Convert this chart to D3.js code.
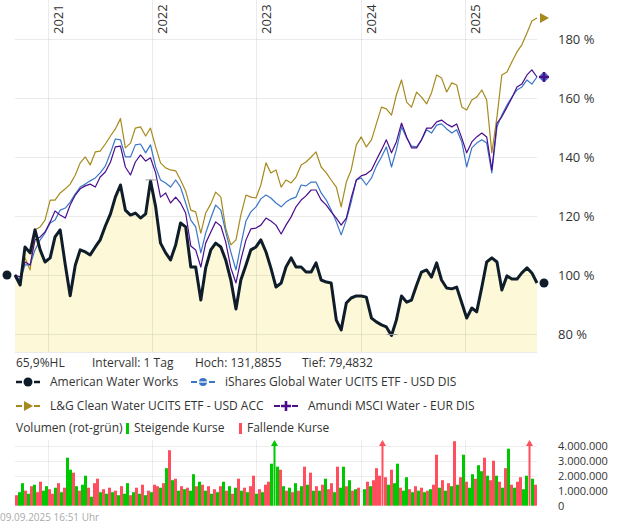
<!DOCTYPE html>
<html>
<head>
<meta charset="utf-8">
<script src="https://cdn.jsdelivr.net/npm/d3@7"></script>
<style>
  body { margin: 0; background: #fff; }
  svg text { font-family: "Open Sans", sans-serif; fill: #333; }
</style>
</head>
<body>
<div id="chart"></div>
<script>
// performance in % (start = 100), one value every ~17.5 days
var startDate = new Date(2020, 8, 9),
  endDate = new Date(2025, 8, 9);

var awk = [100.0, 96.6, 109.5, 107.5, 115.3, 108.5, 104.4, 105.8, 112.9, 115.3,
  103.4, 93.0, 103.4, 108.5, 107.8, 106.8, 109.5, 111.9, 116.6, 120.7,
  126.4, 130.5, 122.0, 120.3, 121.0, 119.3, 120.7, 131.89, 123.1, 110.8,
  107.5, 105.1, 110.2, 117.6, 116.3, 102.7, 102.7, 91.5, 102.4, 108.5,
  110.8, 109.5, 105.1, 98.3, 88.5, 98.3, 103.4, 108.5, 109.5, 111.9,
  107.8, 102.4, 95.9, 97.3, 102.7, 105.8, 102.7, 102.7, 101.0, 101.0,
  104.1, 98.3, 97.6, 97.3, 84.7, 81.4, 90.5, 92.2, 92.9, 92.9,
  92.5, 85.4, 84.1, 83.1, 82.4, 79.48, 84.7, 92.9, 90.8, 91.5,
  96.6, 101.0, 101.7, 99.3, 104.1, 98.3, 95.6, 95.3, 95.9, 90.5,
  85.4, 88.8, 87.5, 95.9, 104.4, 105.8, 104.4, 94.9, 99.7, 98.6,
  98.6, 100.7, 102.4, 100.7, 97.3];

var ishares = [100.0, 98.3, 103.4, 103.4, 108.5, 111.9, 114.2, 117.6, 118.6, 122.0,
  122.7, 124.7, 127.5, 129.8, 130.8, 131.9, 132.9, 134.6, 136.9, 141.4,
  146.1, 145.8, 140.0, 140.0, 144.1, 144.4, 141.4, 144.1, 136.6, 132.2,
  131.2, 129.8, 132.2, 129.8, 124.4, 118.6, 116.3, 107.5, 114.2, 119.3,
  123.7, 122.0, 114.6, 107.8, 101.7, 110.2, 118.3, 121.4, 123.1, 125.8,
  127.1, 126.1, 124.4, 123.1, 124.7, 125.8, 126.4, 130.5, 130.2, 131.5,
  131.5, 127.8, 125.4, 122.0, 118.0, 113.6, 118.6, 124.7, 132.2, 132.9,
  130.5, 132.9, 136.9, 140.0, 143.4, 136.6, 142.4, 150.2, 146.4, 143.7,
  143.4, 145.8, 149.2, 148.1, 150.8, 151.2, 149.5, 148.1, 149.2, 145.1,
  136.6, 143.1, 144.7, 145.8, 144.7, 134.6, 150.2, 154.2, 157.6, 160.3,
  162.7, 163.7, 166.1, 164.7, 167.1];

var lgClean = [100.0, 97.3, 105.8, 101.7, 115.3, 116.3, 118.6, 125.4, 125.4, 127.8,
  129.2, 130.8, 133.9, 138.0, 140.0, 137.3, 141.7, 142.0, 144.4, 147.1,
  149.5, 153.0, 143.1, 144.7, 149.8, 150.2, 147.1, 149.8, 143.4, 138.0,
  136.3, 135.6, 135.3, 132.2, 128.5, 122.0, 121.4, 114.2, 121.0, 124.1,
  128.1, 126.4, 115.9, 110.2, 111.9, 120.3, 127.1, 126.4, 126.1, 130.5,
  138.0, 134.6, 135.6, 129.8, 132.2, 131.2, 133.2, 137.3, 138.3, 140.0,
  141.7, 136.6, 134.6, 132.2, 129.8, 123.1, 131.5, 135.6, 144.1, 146.8,
  143.4, 145.8, 151.2, 156.9, 156.3, 154.2, 161.0, 166.1, 158.6, 156.9,
  162.0, 160.3, 158.0, 161.7, 167.8, 166.8, 162.0, 165.1, 164.4, 156.9,
  155.9, 159.3, 160.3, 162.7, 159.3, 141.4, 153.6, 167.8, 168.8, 172.2,
  175.6, 178.0, 182.0, 186.1, 187.1];

var amundi = [100.0, 99.3, 104.4, 103.4, 111.9, 112.9, 114.6, 118.0, 121.7, 120.3,
  119.3, 123.7, 127.1, 129.2, 130.2, 130.8, 129.8, 133.2, 134.9, 138.3,
  143.4, 143.7, 136.6, 133.9, 138.3, 140.7, 138.6, 139.7, 134.6, 126.4,
  127.8, 124.4, 126.4, 124.4, 121.0, 109.8, 108.5, 102.7, 110.8, 114.6,
  118.0, 116.6, 111.2, 102.4, 97.3, 105.1, 111.9, 115.6, 115.9, 116.9,
  119.3, 118.3, 116.9, 113.9, 116.9, 119.7, 123.1, 125.4, 126.8, 128.8,
  128.8, 125.4, 123.7, 121.4, 119.3, 116.9, 119.3, 126.1, 132.2, 133.6,
  134.2, 135.6, 139.0, 142.4, 145.8, 141.4, 145.1, 151.5, 146.8, 143.1,
  143.1, 145.8, 149.8, 149.8, 151.9, 152.5, 151.2, 150.2, 151.2, 146.4,
  141.4, 145.1, 146.8, 148.1, 146.8, 135.6, 151.5, 153.6, 156.9, 160.0,
  163.7, 164.7, 167.8, 169.5, 167.1];

// volume in millions, g = rising, r = falling
var volumes = [0.7, 0.9, 1.5, 1.0, 0.8, 1.3, 1.4, 0.9, 1.6, 1.0,
  1.3, 1.1, 0.8, 1.2, 1.5, 0.9, 1.2, 3.2, 2.4, 2.2,
  1.3, 1.0, 1.4, 2.0, 1.2, 0.6, 1.5, 1.8, 0.9, 1.1,
  0.8, 1.2, 0.9, 1.0, 0.7, 1.3, 0.8, 1.5, 0.7, 0.9,
  1.2, 0.8, 1.4, 0.7, 1.0, 0.9, 1.4, 1.3, 1.2, 1.5,
  2.5, 3.7, 1.7, 1.8, 1.0, 1.3, 1.1, 1.2, 1.0, 2.1,
  1.3, 1.6, 1.4, 1.0, 1.3, 0.8, 1.1, 0.9, 1.3, 1.6,
  1.0, 1.3, 0.8, 1.2, 1.8, 1.0, 1.2, 0.9, 1.3, 2.0,
  0.8, 1.1, 0.9, 1.4, 1.6, 2.8, 5.0, 2.6, 2.4, 1.3,
  1.0, 1.2, 0.9, 1.5, 1.0, 1.3, 2.6, 1.4, 2.2, 1.0,
  1.3, 1.0, 1.4, 1.8, 1.1, 1.5, 0.9, 2.6, 1.2, 2.6,
  1.3, 1.7, 1.0, 1.1, 1.2, 0, 1.1, 1.6, 1.3, 1.7,
  2.5, 2.0, 5.0, 1.9, 1.4, 2.4, 1.5, 2.8, 1.2, 1.0,
  1.9, 1.1, 0.9, 1.3, 1.0, 1.2, 0.9, 1.0, 1.1, 1.4,
  3.4, 1.2, 1.7, 1.0, 1.5, 1.3, 4.3, 1.4, 1.9, 3.4,
  1.6, 1.2, 2.1, 1.8, 2.7, 2.3, 3.2, 2.0, 1.7, 3.0,
  2.0, 1.6, 1.2, 2.5, 3.8, 1.4, 1.2, 1.6, 1.9, 1.1,
  2.0, 5.0, 1.8, 1.4];
var volDir = ("rggrgrgrrg" + "grrgrgrggr" + "grggrgrrgr" + "grgrgrggrg" + "rgrgrgrrgr" +
  "grgrgrgrgg" + "rgrgrgrgrg" + "rgrgrgrgrr" + "grgrrgggrg" + "rgrgrgrgrg" +
  "rgrgrrgrgg" + "rgrgrggrgr" + "rrrrgrggrg" + "grgrgrgrgr" + "rgrgrgrgrg" +
  "rggrggrgrr" + "grgrgrgrrg" + "grgr").split("");

var years = [2021, 2022, 2023, 2024, 2025];
var pctTicks = [80, 100, 120, 140, 160, 180];
var volTicks = [0, 1e6, 2e6, 3e6, 4e6];
var awkHigh = 131.8855, awkLow = 79.4832;
var infoTexts = ["65,9%HL", "Intervall: 1 Tag", "Hoch: 131,8855", "Tief: 79,4832"];
var stamp = "09.09.2025 16:51 Uhr";

var series = [
  { name: "L&G Clean Water UCITS ETF - USD ACC", values: lgClean, color: "#a68a1e", marker: "tri" },
  { name: "iShares Global Water UCITS ETF - USD DIS", values: ishares, color: "#3a76c8", marker: "disc" },
  { name: "Amundi MSCI Water - EUR DIS", values: amundi, color: "#4b0e8c", marker: "plus" },
  { name: "American Water Works", values: awk, color: "#0e1d29", marker: "dot" }
];

var W = 620, H = 523;
var plot = { left: 15, right: 537, top: 0, bottom: 352 };
var vol = { top: 440, bottom: 505.7 };

var svg = d3.select("#chart").append("svg").attr("width", W).attr("height", H);

var span = d3.timeDay.count(startDate, endDate);
var dates = d3.range(awk.length).map(function (i) {
  return d3.timeDay.offset(startDate, Math.round(i * span / (awk.length - 1)));
});

var x = d3.scaleTime().domain([startDate, endDate]).range([plot.left, plot.right]);
var y = d3.scaleLinear().domain([73.9, 193.2]).range([plot.bottom, plot.top]);
var yv = d3.scaleLinear().domain([0, 4.38e6]).range([vol.bottom, vol.top]);

// area under American Water Works
svg.append("path")
  .datum(awk)
  .attr("fill", "#fcf8d8")
  .attr("d", d3.area()
    .x(function (d, i) { return x(dates[i]); })
    .y0(plot.bottom)
    .y1(function (d) { return y(d); }));

// grid
var grid = svg.append("g").attr("stroke", "#000").attr("stroke-opacity", 0.08);
grid.selectAll(".h").data(pctTicks).enter().append("line")
  .attr("x1", plot.left).attr("x2", plot.right)
  .attr("y1", function (d) { return Math.round(y(d)) + 0.5; })
  .attr("y2", function (d) { return Math.round(y(d)) + 0.5; });
grid.selectAll(".v").data(years).enter().append("line")
  .attr("y1", plot.top).attr("y2", plot.bottom)
  .attr("x1", function (d) { return Math.round(x(new Date(d, 0, 1))) + 0.5; })
  .attr("x2", function (d) { return Math.round(x(new Date(d, 0, 1))) + 0.5; });
grid.append("line").attr("x1", plot.left).attr("x2", plot.right)
  .attr("y1", plot.bottom + 0.5).attr("y2", plot.bottom + 0.5);

// year labels
svg.selectAll(".year").data(years).enter().append("text")
  .attr("transform", function (d) {
    return "translate(" + (x(new Date(d, 0, 1)) + 15) + ",34) rotate(-90)";
  })
  .attr("font-size", 13)
  .text(function (d) { return d; });

// right axis
var yAxis = svg.append("g")
  .attr("transform", "translate(" + plot.right + ",0)")
  .call(d3.axisRight(y).tickValues(pctTicks).tickSize(0).tickPadding(21)
    .tickFormat(function (d) { return d + " %"; }));
yAxis.select(".domain").remove();
yAxis.selectAll("text").attr("font-size", 13).attr("font-family", "Open Sans").attr("fill", "#333");

// lines
var line = d3.line()
  .x(function (d, i) { return x(dates[i]); })
  .y(function (d) { return y(d); });
series.forEach(function (s) {
  svg.append("path")
    .datum(s.values)
    .attr("fill", "none")
    .attr("stroke", s.color)
    .attr("stroke-width", s.marker === "dot" ? 3 : 1.2)
    .attr("stroke-linejoin", "round")
    .attr("d", line);
});

// high / low markers
var iHigh = awk.indexOf(d3.max(awk)), iLow = awk.indexOf(d3.min(awk));
[[iHigh, awkHigh], [iLow, awkLow]].forEach(function (p) {
  svg.append("line")
    .attr("x1", x(dates[p[0]]) - 5).attr("x2", x(dates[p[0]]) + 6)
    .attr("y1", y(p[1]) - 1).attr("y2", y(p[1]) - 1)
    .attr("stroke", "#999").attr("stroke-width", 1);
});

function marker(g, type, color, cx, cy) {
  if (type === "dot") {
    g.append("circle").attr("cx", cx).attr("cy", cy).attr("r", 4.5).attr("fill", color);
  } else if (type === "disc") {
    g.append("circle").attr("cx", cx).attr("cy", cy).attr("r", 4).attr("fill", color);
    g.append("line").attr("x1", cx - 4).attr("x2", cx + 4).attr("y1", cy).attr("y2", cy)
      .attr("stroke", "#fff").attr("stroke-width", 1.2);
  } else if (type === "tri") {
    g.append("path").attr("d", "M" + (cx - 4) + "," + (cy - 5) + "L" + (cx + 5) + "," + cy + "L" + (cx - 4) + "," + (cy + 5) + "Z")
      .attr("fill", color);
  } else {
    g.append("path").attr("d", "M" + (cx - 5) + "," + cy + "H" + (cx + 5) + "M" + cx + "," + (cy - 5) + "V" + (cy + 5))
      .attr("stroke", color).attr("stroke-width", 2.6);
  }
}

// start and end markers
var marks = svg.append("g");
marker(marks, "dot", "#0e1d29", 7, y(awk[0]));
series.forEach(function (s) {
  marker(marks, s.marker, s.color, 544, y(s.values[s.values.length - 1]));
});

// info row
var infoX = [16, 92, 195, 302];
svg.selectAll(".info").data(infoTexts).enter().append("text")
  .attr("x", function (d, i) { return infoX[i]; })
  .attr("y", 363).attr("dy", "0.35em").attr("font-size", 12)
  .text(function (d) { return d; });

// legend
var legendPos = [
  { s: series[3], x: 16, y: 382 },
  { s: series[1], x: 191, y: 382 },
  { s: series[0], x: 16, y: 406 },
  { s: series[2], x: 274, y: 406 }
];
legendPos.forEach(function (l) {
  var g = svg.append("g");
  var w = l.s.marker === "dot" ? 2.5 : 2;
  g.append("line").attr("x1", l.x).attr("x2", l.x + 6).attr("y1", l.y).attr("y2", l.y)
    .attr("stroke", l.s.color).attr("stroke-width", w);
  g.append("line").attr("x1", l.x + 18).attr("x2", l.x + 24).attr("y1", l.y).attr("y2", l.y)
    .attr("stroke", l.s.color).attr("stroke-width", w);
  marker(g, l.s.marker, l.s.color, l.x + 12, l.y);
  g.append("text").attr("x", l.x + 34).attr("y", l.y).attr("dy", "0.35em")
    .attr("font-size", 12).text(l.s.name);
});

// volume legend
svg.append("text").attr("x", 16).attr("y", 428).attr("dy", "0.35em").attr("font-size", 12)
  .text("Volumen (rot-grün)");
svg.append("rect").attr("x", 126).attr("y", 423).attr("width", 3).attr("height", 11).attr("fill", "#00c800");
svg.append("text").attr("x", 134).attr("y", 428).attr("dy", "0.35em").attr("font-size", 12)
  .text("Steigende Kurse");
svg.append("rect").attr("x", 239).attr("y", 423).attr("width", 3).attr("height", 11).attr("fill", "#ff4f5e");
svg.append("text").attr("x", 247).attr("y", 428).attr("dy", "0.35em").attr("font-size", 12)
  .text("Fallende Kurse");

// volume grid
var vgrid = svg.append("g").attr("stroke", "#000").attr("stroke-opacity", 0.07);
vgrid.selectAll(".h").data(volTicks.slice(1)).enter().append("line")
  .attr("x1", plot.left).attr("x2", plot.right)
  .attr("y1", function (d) { return Math.round(yv(d)) + 0.5; })
  .attr("y2", function (d) { return Math.round(yv(d)) + 0.5; });
vgrid.selectAll(".v").data(years).enter().append("line")
  .attr("y1", vol.top).attr("y2", vol.bottom)
  .attr("x1", function (d) { return Math.round(x(new Date(d, 0, 1))) + 0.5; })
  .attr("x2", function (d) { return Math.round(x(new Date(d, 0, 1))) + 0.5; });

// volume bars
var vmax = yv.domain()[1];
var vdate = function (i) {
  return d3.timeDay.offset(startDate, Math.round(i * span / volumes.length));
};
var bars = svg.append("g");
volumes.forEach(function (v, i) {
  var val = v * 1e6, x0 = Math.round(x(vdate(i))), x1 = Math.round(x(vdate(i + 1)));
  var color = volDir[i] === "g" ? "#00c800" : "#ff4f5e";
  if (val <= 0) return;
  if (val > vmax) {
    var cx = (x0 + x1) / 2;
    bars.append("rect").attr("x", cx - 1).attr("width", 2)
      .attr("y", vol.top + 5).attr("height", vol.bottom - vol.top - 5).attr("fill", color);
    bars.append("path").attr("d", "M" + (cx - 3.5) + "," + (vol.top + 6) + "L" + cx + "," + vol.top + "L" + (cx + 3.5) + "," + (vol.top + 6) + "Z")
      .attr("fill", color);
  } else {
    bars.append("rect").attr("x", x0).attr("width", Math.max(1, x1 - x0))
      .attr("y", yv(val)).attr("height", vol.bottom - yv(val)).attr("fill", color);
  }
});

// volume axis
var fmt = d3.formatLocale({ decimal: ",", thousands: ".", grouping: [3], currency: ["", "€"] }).format(",");
var vAxis = svg.append("g")
  .attr("transform", "translate(" + plot.right + ",0)")
  .call(d3.axisRight(yv).tickValues(volTicks).tickSize(0).tickPadding(21).tickFormat(fmt));
vAxis.select(".domain").remove();
vAxis.selectAll("text").attr("font-size", 11).attr("font-family", "Liberation Sans, Arial").attr("fill", "#333");

// timestamp
svg.append("text").attr("x", 0).attr("y", 517).attr("dy", "0.35em")
  .attr("font-size", 10).attr("font-family", "Liberation Sans, Arial")
  .style("fill", "#aaa").text(stamp);
</script>
</body>
</html>
